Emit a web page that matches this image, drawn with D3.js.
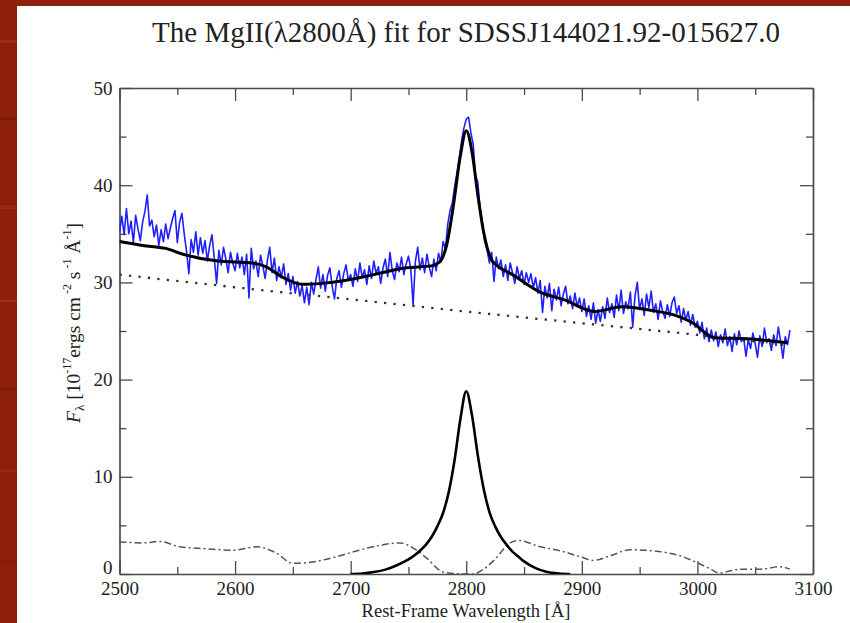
<!DOCTYPE html>
<html>
<head>
<meta charset="utf-8">
<script src="https://cdn.jsdelivr.net/npm/d3@7"></script>
<style>
  html, body { margin: 0; padding: 0; background: #fff; }
  svg { display: block; }
  text { font-family: "Liberation Serif", "Times New Roman", serif; fill: #222; }
</style>
</head>
<body>
<svg id="chart" width="850" height="623"></svg>
<script>
// ---- Observed spectrum, sampled every 2 Å from 2500 to 3080 Å ----
const obsStart = 2500;
const obsStep = 2;
const obsFlux = [
  // 2500–2598
  35.2, 36.8, 34.9, 37.6, 35.0, 36.3, 34.1, 36.9, 35.5, 34.3,
  36.2, 37.3, 39.0, 35.8, 36.4, 34.7, 35.9, 33.8, 35.4, 34.2,
  36.0, 34.5, 35.6, 36.6, 37.4, 34.1, 36.2, 37.1, 35.0, 33.2,
  30.9, 34.4, 33.1, 35.2, 32.8, 34.6, 33.0, 34.3, 32.2, 33.8,
  34.9, 32.5, 29.9, 33.3, 31.8, 33.6, 32.4, 31.0, 33.1, 32.0,
  // 2600–2698
  31.2, 33.0, 31.5, 32.6, 30.8, 32.9, 28.4, 33.5, 31.4, 32.2,
  30.6, 32.8, 31.7, 30.4, 32.3, 33.6, 31.0, 32.5, 30.2, 31.6,
  30.5, 31.9, 29.8, 30.9, 29.2, 30.6, 28.9, 30.1, 28.6, 29.7,
  27.9, 29.5, 27.7, 30.0, 28.8, 30.3, 31.6, 29.4, 30.8, 29.1,
  30.7, 31.5, 29.6, 28.3, 30.4, 31.2, 29.5, 30.9, 31.8, 30.2,
  // 2700–2798
  30.8, 29.6, 31.4, 30.1, 32.0, 30.5, 31.3, 29.8, 31.7, 30.4,
  32.2, 30.9, 31.6, 29.9, 31.5, 32.4, 30.6, 33.1, 31.2, 30.3,
  32.0, 31.1, 32.6, 30.8, 31.9, 32.7, 31.4, 27.7, 32.2, 33.6,
  31.3, 32.5, 31.0, 32.9, 31.6, 30.6, 32.4, 31.2, 33.0, 32.1,
  34.2, 33.5, 36.0, 37.4, 38.2, 39.9, 41.3, 42.8, 44.6, 45.9,
  // 2800–2898
  46.8, 47.0, 45.4, 44.2, 41.0, 40.3, 37.6, 36.1, 34.2, 33.4,
  32.0, 33.1, 30.1, 32.6, 31.4, 32.3, 30.6, 31.8, 30.2, 32.0,
  31.0, 29.9, 31.6, 30.4, 31.2, 29.8, 31.0, 30.0, 30.9, 29.4,
  30.5, 28.9, 30.2, 26.9, 29.6, 28.4, 29.9, 27.1, 29.3, 28.2,
  29.5, 27.6, 28.8, 29.6, 27.8, 28.6, 27.3, 28.9, 27.5, 28.4,
  // 2900–2998
  27.0, 28.3, 26.5, 27.6, 26.2, 27.9, 25.8, 27.2, 26.0, 27.5,
  26.3, 28.4, 26.9, 27.8, 26.4, 28.7, 27.1, 29.2, 26.8, 28.0,
  27.3, 29.0, 25.4, 28.6, 30.0, 27.2, 28.3, 26.6, 28.8, 27.4,
  29.1, 26.9, 27.8, 26.2, 28.1, 27.0, 26.3, 27.7, 26.5, 27.9,
  28.5, 26.8, 27.6, 25.9, 27.3, 26.1, 27.0, 25.6, 26.7, 25.4,
  // 3000–3080
  26.0, 24.8, 25.9, 24.2, 25.3, 23.9, 25.1, 24.0, 24.9, 23.4,
  24.6, 23.8, 25.2, 23.5, 24.4, 22.9, 24.7, 23.6, 25.0, 23.9,
  24.3, 22.4, 24.1, 23.2, 24.8, 23.7, 22.3, 24.5, 23.4, 25.3,
  23.8, 24.2, 23.0, 24.6, 23.5, 25.4, 23.9, 22.2, 24.4, 23.6,
  25.1
];

// ---- Total model fit ----
const fitWave = [2500, 2520, 2540, 2555, 2585, 2615, 2627, 2640, 2658, 2675,
                 2695, 2720, 2748, 2770, 2777, 2783, 2789, 2795, 2800, 2805,
                 2810, 2815, 2818, 2822, 2827, 2840, 2864, 2885, 2911, 2935,
                 2961, 2981, 2995, 3015, 3043, 3078];
const fitFlux = [34.2, 33.8, 33.5, 32.9, 32.2, 32.0, 31.6, 30.6, 29.8, 29.9,
                 30.2, 30.8, 31.5, 31.7, 32.1, 33.8, 38.0, 43.1, 45.6, 43.4,
                 39.0, 35.2, 33.6, 32.3, 31.7, 30.8, 29.0, 28.2, 27.0, 27.5,
                 27.1, 26.6, 25.9, 24.3, 24.2, 23.8];

// ---- Power-law continuum ----
const contWave = [2500, 2600, 2700, 2800, 2900, 3000, 3080];
const contFlux = [30.8, 29.5, 28.25, 27.0, 25.8, 24.6, 23.5];

// ---- Broad MgII emission component ----
const mgWave = [2700, 2710, 2720, 2730, 2740, 2750, 2755, 2760, 2765, 2770,
                2775, 2780, 2785, 2790, 2795, 2800, 2805, 2810, 2815, 2820,
                2825, 2830, 2835, 2840, 2845, 2850, 2860, 2870, 2880, 2890];
const mgFlux = [0.0, 0.05, 0.2, 0.45, 0.9, 1.5, 1.9, 2.4, 3.0, 3.8,
                4.9, 6.3, 8.5, 11.8, 16.0, 18.8, 16.3, 12.2, 8.8, 6.4,
                4.9, 3.8, 3.0, 2.3, 1.8, 1.3, 0.6, 0.2, 0.05, 0.0];

// ---- FeII pseudo-continuum ----
const feWave = [2500, 2520, 2535, 2552, 2575, 2598, 2619, 2635, 2650, 2665,
                2685, 2700, 2723, 2743, 2755, 2766, 2780, 2793, 2806, 2815,
                2824, 2838, 2845, 2864, 2881, 2898, 2910, 2925, 2942, 2960,
                2973, 2987, 2999, 3010, 3019, 3028, 3037, 3055, 3071, 3080];
const feFlux = [3.3, 3.2, 3.35, 2.8, 2.6, 2.45, 2.8, 2.2, 1.1, 1.2,
                1.7, 2.2, 2.9, 3.2, 2.6, 1.6, 0.2, 0.02, 0.0, 0.5,
                1.4, 3.2, 3.45, 2.8, 2.4, 1.8, 1.4, 1.9, 2.5, 2.4,
                2.2, 1.8, 1.2, 0.6, 0.1, 0.3, 0.5, 0.5, 0.75, 0.5];

// ---- Axis ticks ----
const xMajorTicks = [2500, 2600, 2700, 2800, 2900, 3000, 3100];
const xMinorTicks = [2550, 2650, 2750, 2850, 2950, 3050];
const yMajorTicks = [0, 10, 20, 30, 40, 50];
const yMinorTicks = [5, 15, 25, 35, 45];

const titleText = "The MgII(\u03bb2800\u00c5) fit for SDSSJ144021.92-015627.0";

// ---------------------------------------------------------------
const svg = d3.select("#chart");
const W = 850, H = 623;

// Slide frame: dark red border strips behind the white page
svg.append("rect").attr("width", W).attr("height", H).attr("fill", "#8e1f0b");
const streaks = [[40, 3, "#a3300f"], [118, 2, "#7a1607"], [205, 4, "#9a2a0e"],
                 [300, 2, "#a8340f"], [388, 3, "#7d1808"], [470, 2, "#a02d0e"],
                 [560, 3, "#84190a"]];
svg.selectAll("rect.streak").data(streaks).join("rect")
  .attr("class", "streak")
  .attr("x", 0).attr("width", 17)
  .attr("y", d => d[0]).attr("height", d => d[1])
  .attr("fill", d => d[2]).attr("opacity", 0.8);
svg.append("rect").attr("x", 17).attr("y", 6).attr("width", W - 17).attr("height", H - 6)
  .attr("fill", "#ffffff");

// Plot area
const plotL = 119.5, plotR = 813, plotT = 88, plotB = 574;
const x = d3.scaleLinear().domain([2500, 3100]).range([plotL, plotR]);
const y = d3.scaleLinear().domain([0, 50]).range([plotB, plotT]);

// Title
svg.append("text")
  .attr("x", 466).attr("y", 42)
  .attr("text-anchor", "middle")
  .attr("font-size", 29)
  .text(titleText);

// Axes (ticks drawn inward on all four sides)
const axisColor = "#4a4a4a";
function styleAxis(g) {
  g.selectAll("path.domain").attr("stroke", axisColor).attr("stroke-width", 1.7);
  g.selectAll(".tick line").attr("stroke", axisColor).attr("stroke-width", 1.3);
  g.selectAll(".tick text").attr("font-family", "Liberation Serif, serif")
    .attr("font-size", 19).attr("fill", "#222");
}

const gBottom = svg.append("g").attr("transform", `translate(0,${plotB})`)
  .call(d3.axisBottom(x).tickValues(xMajorTicks).tickFormat(d3.format("d"))
    .tickSize(-13).tickSizeOuter(0).tickPadding(8));
svg.append("g").attr("transform", `translate(0,${plotB})`)
  .call(d3.axisBottom(x).tickValues(xMinorTicks).tickFormat("").tickSize(-7).tickSizeOuter(0))
  .call(g => g.select(".domain").remove())
  .call(styleAxis);
styleAxis(gBottom);

const gTop = svg.append("g").attr("transform", `translate(0,${plotT})`)
  .call(d3.axisTop(x).tickValues(xMajorTicks).tickFormat("").tickSize(-13).tickSizeOuter(0));
svg.append("g").attr("transform", `translate(0,${plotT})`)
  .call(d3.axisTop(x).tickValues(xMinorTicks).tickFormat("").tickSize(-7).tickSizeOuter(0))
  .call(g => g.select(".domain").remove())
  .call(styleAxis);
styleAxis(gTop);

const gLeft = svg.append("g").attr("transform", `translate(${plotL},0)`)
  .call(d3.axisLeft(y).tickValues(yMajorTicks).tickFormat(d3.format("d"))
    .tickSize(-13).tickSizeOuter(0).tickPadding(7));
svg.append("g").attr("transform", `translate(${plotL},0)`)
  .call(d3.axisLeft(y).tickValues(yMinorTicks).tickFormat("").tickSize(-7).tickSizeOuter(0))
  .call(g => g.select(".domain").remove())
  .call(styleAxis);
styleAxis(gLeft);
// lift the zero label slightly so it clears the first wavelength label
gLeft.selectAll(".tick text").filter(d => d === 0).attr("dy", "-0.03em");

const gRight = svg.append("g").attr("transform", `translate(${plotR},0)`)
  .call(d3.axisRight(y).tickValues(yMajorTicks).tickFormat("").tickSize(-13).tickSizeOuter(0));
svg.append("g").attr("transform", `translate(${plotR},0)`)
  .call(d3.axisRight(y).tickValues(yMinorTicks).tickFormat("").tickSize(-7).tickSizeOuter(0))
  .call(g => g.select(".domain").remove())
  .call(styleAxis);
styleAxis(gRight);

// Spectrum and model components, clipped to the frame
svg.append("clipPath").attr("id", "plotClip")
  .append("rect").attr("x", plotL).attr("y", plotT)
  .attr("width", plotR - plotL).attr("height", plotB - plotT);
const plot = svg.append("g").attr("clip-path", "url(#plotClip)");

const zip = (ws, fs) => ws.map((w, i) => [w, fs[i]]);
const obs = obsFlux.map((f, i) => [obsStart + i * obsStep, f]);

const straight = d3.line().x(d => x(d[0])).y(d => y(d[1]));
const smooth = d3.line().x(d => x(d[0])).y(d => y(d[1])).curve(d3.curveMonotoneX);

plot.append("path").datum(obs).attr("d", straight)
  .attr("fill", "none").attr("stroke", "#1f1fff").attr("stroke-width", 1.6)
  .attr("stroke-linejoin", "round");

plot.append("path").datum(zip(contWave, contFlux)).attr("d", smooth)
  .attr("fill", "none").attr("stroke", "#333").attr("stroke-width", 2.3)
  .attr("stroke-dasharray", "2.3,7.2");

plot.append("path").datum(zip(feWave, feFlux)).attr("d", smooth)
  .attr("fill", "none").attr("stroke", "#555").attr("stroke-width", 1.5)
  .attr("stroke-dasharray", "7,3,2,3");

plot.append("path").datum(zip(mgWave, mgFlux)).attr("d", smooth)
  .attr("fill", "none").attr("stroke", "#000").attr("stroke-width", 2.6);

plot.append("path").datum(zip(fitWave, fitFlux)).attr("d", smooth)
  .attr("fill", "none").attr("stroke", "#000").attr("stroke-width", 3)
  .attr("stroke-linejoin", "round");

// Axis titles
svg.append("text")
  .attr("x", 466).attr("y", 617)
  .attr("text-anchor", "middle")
  .attr("font-size", 18.5)
  .text("Rest-Frame Wavelength [\u00c5]");

const yTitle = svg.append("text")
  .attr("transform", "translate(80,323) rotate(-90)")
  .attr("text-anchor", "middle")
  .attr("font-size", 19.5);
yTitle.append("tspan").attr("font-style", "italic").text("F");
yTitle.append("tspan").attr("font-size", 13).attr("dy", 4).text("\u03bb");
yTitle.append("tspan").attr("dy", -4).text(" [10");
yTitle.append("tspan").attr("font-size", 12).attr("dy", -9).text("-17");
yTitle.append("tspan").attr("dy", 9).text("ergs cm");
yTitle.append("tspan").attr("font-size", 12).attr("dy", -9).text(" -2");
yTitle.append("tspan").attr("dy", 9).text("  s");
yTitle.append("tspan").attr("font-size", 12).attr("dy", -9).text(" -1");
yTitle.append("tspan").attr("dy", 9).text("  \u00c5");
yTitle.append("tspan").attr("font-size", 12).attr("dy", -9).text("-1");
yTitle.append("tspan").attr("dy", 9).text("]");
</script>
</body>
</html>
